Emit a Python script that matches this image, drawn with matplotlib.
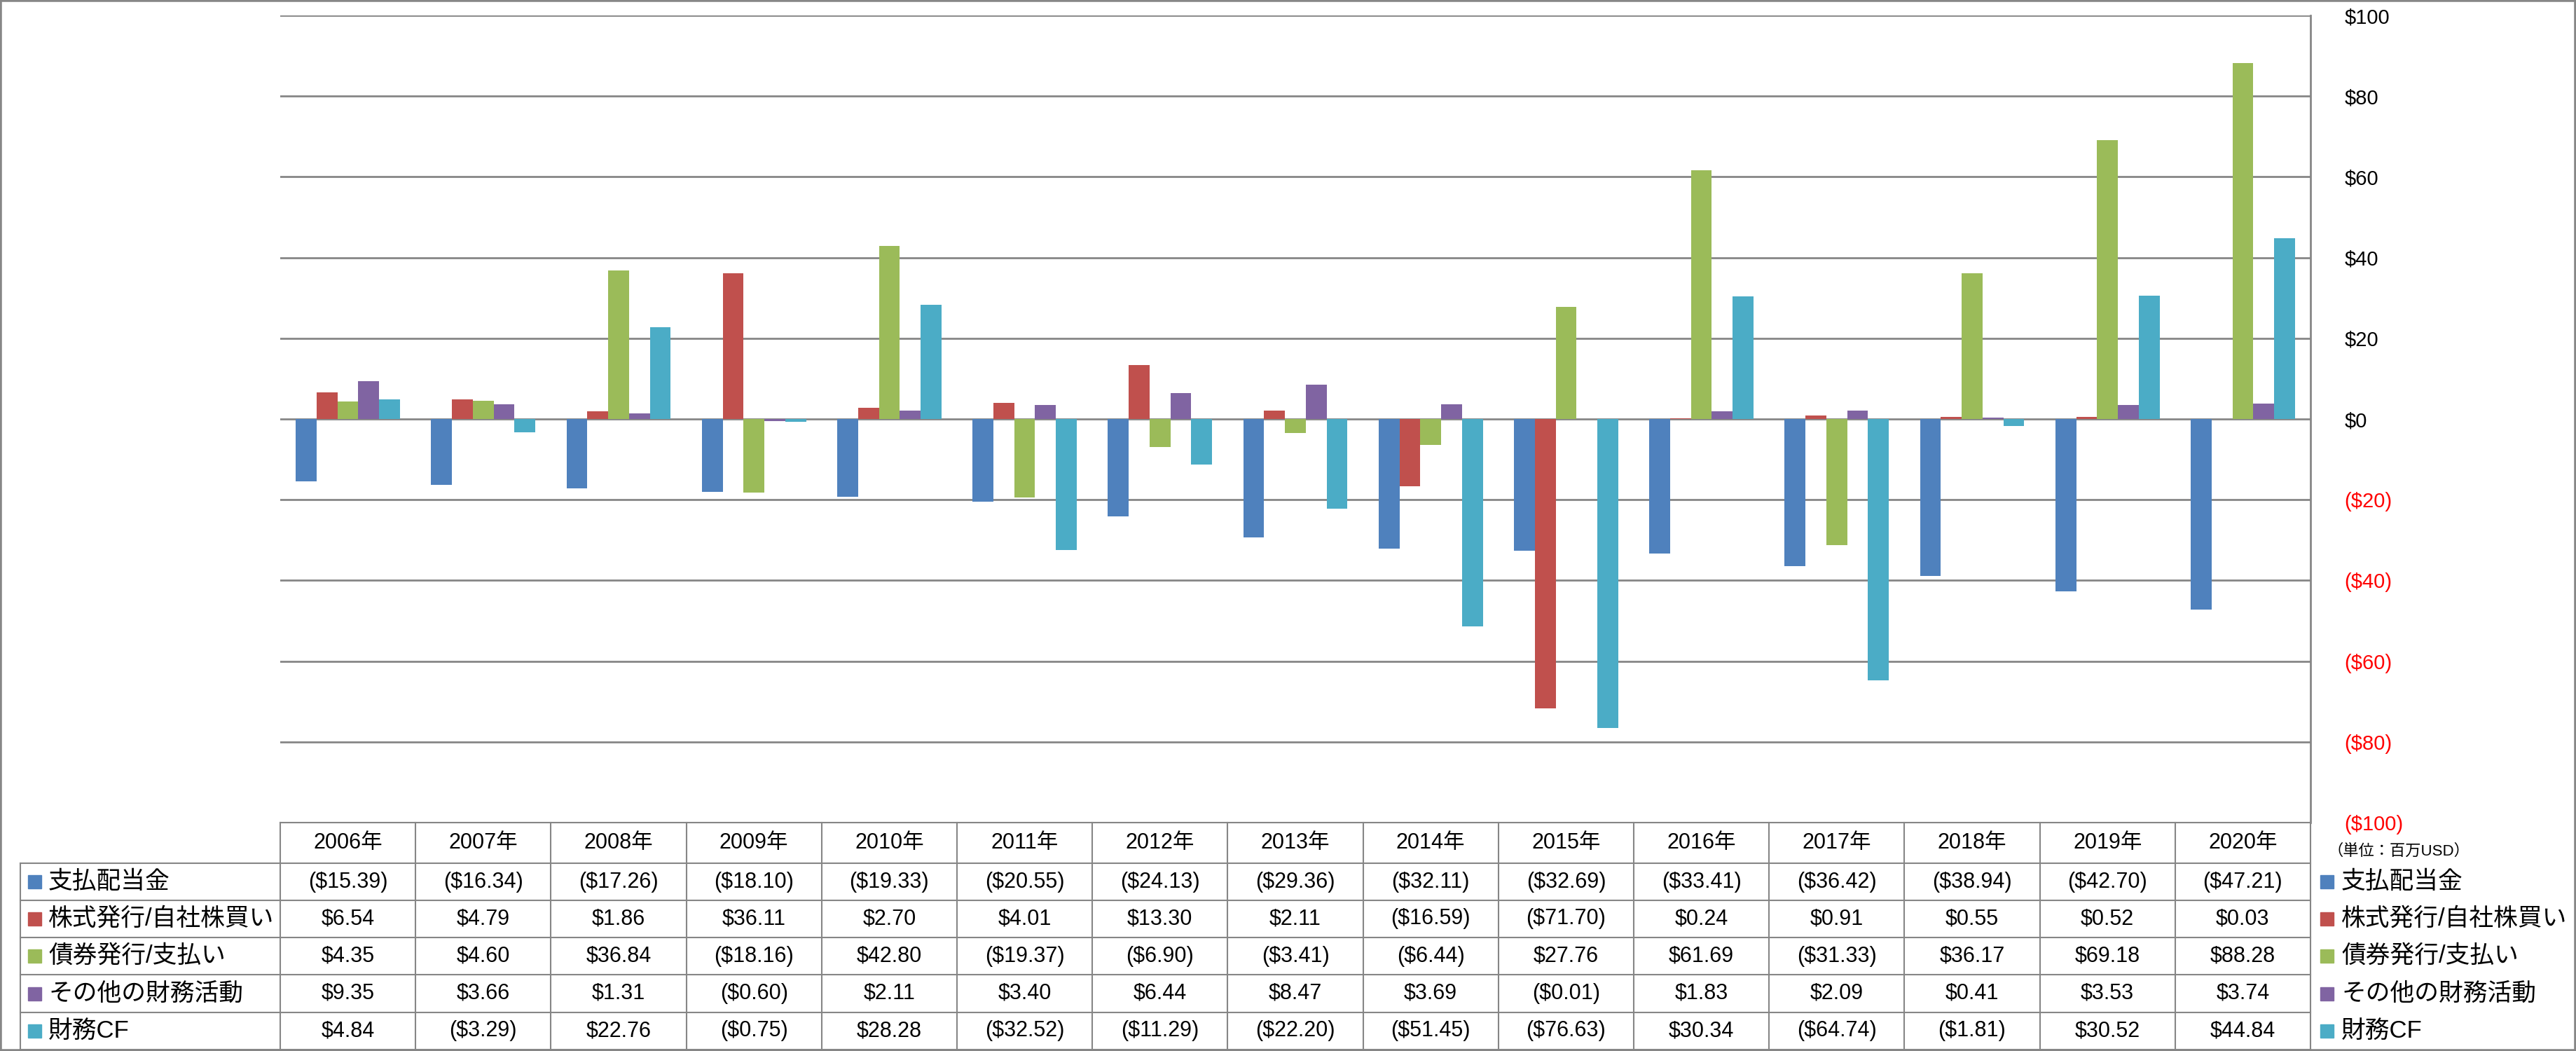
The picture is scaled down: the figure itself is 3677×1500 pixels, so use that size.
import numpy as np
import matplotlib
matplotlib.use('Agg')
import matplotlib.pyplot as plt
from matplotlib.lines import Line2D
from matplotlib.patches import Rectangle
from matplotlib.transforms import blended_transform_factory
from matplotlib.ticker import FuncFormatter

plt.rcParams['font.family'] = ['Liberation Sans', 'Noto Sans CJK JP']

years = ['2006年', '2007年', '2008年', '2009年', '2010年', '2011年', '2012年', '2013年',
         '2014年', '2015年', '2016年', '2017年', '2018年', '2019年', '2020年']
series_names = ['支払配当金', '株式発行/自社株買い', '債券発行/支払い', 'その他の財務活動', '財務CF']

dividends = [-15.39, -16.34, -17.26, -18.10, -19.33, -20.55, -24.13, -29.36,
             -32.11, -32.69, -33.41, -36.42, -38.94, -42.70, -47.21]
stock = [6.54, 4.79, 1.86, 36.11, 2.70, 4.01, 13.30, 2.11,
         -16.59, -71.70, 0.24, 0.91, 0.55, 0.52, 0.03]
debt = [4.35, 4.60, 36.84, -18.16, 42.80, -19.37, -6.90, -3.41,
        -6.44, 27.76, 61.69, -31.33, 36.17, 69.18, 88.28]
other = [9.35, 3.66, 1.31, -0.60, 2.11, 3.40, 6.44, 8.47,
         3.69, -0.01, 1.83, 2.09, 0.41, 3.53, 3.74]
financing_cf = [4.84, -3.29, 22.76, -0.75, 28.28, -32.52, -11.29, -22.20,
                -51.45, -76.63, 30.34, -64.74, -1.81, 30.52, 44.84]

series_values = [dividends, stock, debt, other, financing_cf]
colors = ['#4F81BD', '#C0504D', '#9BBB59', '#8064A2', '#4BACC6']
unit_label = '（単位：百万USD）'

W, H = 3677, 1500
GRID = '#868686'


def fx(px):
    return px / W


def fy(py):
    return 1 - py / H


def money(v, digits=2):
    if v < 0:
        return '(${:.{d}f})'.format(-v, d=digits)
    return '${:.{d}f}'.format(v, d=digits)


fig = plt.figure(figsize=(W / 100, H / 100), dpi=100)
ax = fig.add_axes([fx(400), fy(1174), (3298 - 400) / W, (1174 - 22) / H])

x = np.arange(len(years))
n = len(series_values)
width = 1 / 6.5
for i, (name, vals, c) in enumerate(zip(series_names, series_values, colors)):
    ax.bar(x + (i - (n - 1) / 2) * width, vals, width, color=c, label=name, zorder=2)

ax.set_xlim(-0.5, len(years) - 0.5)
ax.set_ylim(-100, 100)
ticks = list(range(-100, 101, 20))
ax.set_yticks(ticks)
ax.yaxis.tick_right()
ax.yaxis.set_major_formatter(FuncFormatter(lambda v, p: money(v, 0)))
ax.yaxis.grid(True, color=GRID, lw=2)
ax.set_axisbelow(True)
ax.set_xticks([])
for s in ['left', 'bottom', 'top']:
    ax.spines[s].set_visible(False)
ax.spines['right'].set_color(GRID)
ax.spines['right'].set_linewidth(2)
ax.tick_params(axis='y', length=0, pad=35, labelsize=21)
ax.set_yticklabels([money(t, 0) for t in ticks])
for lbl, t in zip(ax.get_yticklabels(), ticks):
    lbl.set_color('red' if t < 0 else 'black')

# data table under the plot
tr = blended_transform_factory(ax.transData, fig.transFigure)
row_edges = [1174, 1232, 1285, 1338, 1391, 1445, 1498]
line_kw = dict(color=GRID, lw=1.5)

for b in np.arange(len(years) + 1) - 0.5:
    fig.add_artist(Line2D([b, b], [fy(1174), fy(1498)], transform=tr, **line_kw))
fig.add_artist(Line2D([fx(29), fx(29)], [fy(1232), fy(1498)], transform=fig.transFigure, **line_kw))
for k, ry in enumerate(row_edges):
    fig.add_artist(Line2D([-0.5, len(years) - 0.5], [fy(ry), fy(ry)], transform=tr, **line_kw))
    if k > 0:
        fig.add_artist(Line2D([fx(29), fx(400)], [fy(ry), fy(ry)], transform=fig.transFigure, **line_kw))

for j, yr in enumerate(years):
    fig.text(j, fy((row_edges[0] + row_edges[1]) / 2), yr, transform=tr,
             ha='center', va='center', fontsize=22)

for r, (name, vals, c) in enumerate(zip(series_names, series_values, colors)):
    yc = fy((row_edges[r + 1] + row_edges[r + 2]) / 2)
    for j, v in enumerate(vals):
        fig.text(j, yc, money(v), transform=tr, ha='center', va='center', fontsize=22)
    # row label with colour key
    fig.add_artist(Rectangle((fx(40), yc - 9.5 / H), 19 / W, 19 / H,
                             transform=fig.transFigure, color=c))
    fig.text(fx(69), yc, name, ha='left', va='center', fontsize=25)
    # legend on the right
    fig.add_artist(Rectangle((fx(3312), yc - 9.5 / H), 19 / W, 19 / H,
                             transform=fig.transFigure, color=c))
    fig.text(fx(3342), yc, name, ha='left', va='center', fontsize=25)

fig.text(fx(3322), fy(1215), unit_label, ha='left', va='center', fontsize=16)

fig.add_artist(Rectangle((0, 0), 1, 1, transform=fig.transFigure,
                         fill=False, ec=GRID, lw=4))

fig.savefig('out.png', dpi=100)
